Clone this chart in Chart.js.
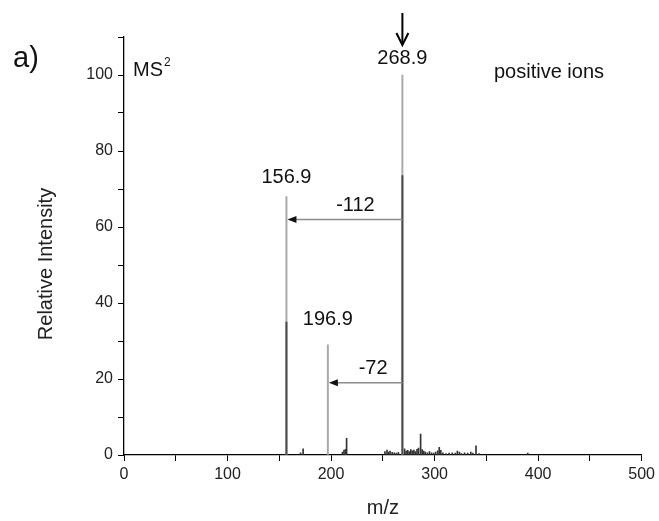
<!DOCTYPE html>
<html>
<head>
<meta charset="utf-8">
<script src="https://cdn.jsdelivr.net/npm/chart.js@4.4.1/dist/chart.umd.min.js"></script>
<style>
  html, body { margin: 0; padding: 0; background: #fff; }
  #wrap { width: 659px; height: 521px; }
</style>
</head>
<body>
<div id="wrap"><canvas id="c" width="659" height="521"></canvas></div>
<script>
// Product-ion peaks (m/z) and relative intensities (%)
const mainMz = [156.9, 196.9, 268.9];
const mainIntensity = [68, 29, 100];
// Lower, darker part of the two strongest sticks
const coreMz = [156.9, 268.9];
const coreIntensity = [35, 73.5];
// Weak background peaks
const minorMz = [170.5, 173, 211, 212.5, 214, 215, 252, 254, 255.5, 257, 259, 261, 263, 265,
  271, 272.5, 274, 275.5, 277, 278.5, 280, 281.5, 283, 284.5, 286.5, 288, 289.5, 291, 293, 295,
  297, 299, 301, 303, 304.5, 306, 308, 311, 314, 317, 320, 322, 324, 326, 329, 332, 335, 337,
  340, 343, 390];
const minorIntensity = [0.6, 1.6, 0.8, 1.3, 1.5, 4.4, 0.9, 1.3, 0.8, 1.0, 0.7, 0.6, 0.5, 0.7,
  1.6, 1.0, 1.2, 0.9, 1.4, 1.1, 1.3, 0.9, 1.5, 1.8, 5.5, 1.4, 1.0, 0.8, 0.6, 0.9,
  0.6, 0.5, 0.8, 1.1, 2.0, 1.2, 0.6, 0.4, 0.5, 0.6, 0.5, 1.0, 0.8, 0.4, 0.6, 0.5, 0.8, 0.5,
  2.4, 0.4, 0.5];
// Neutral losses from the precursor ion
const lossFrom = [268.9, 268.9];
const lossTo = [156.9, 196.9];
const lossLevel = [62, 19];
const lossLabels = ['-112', '-72'];
// Labelled axis ticks
const xTickLabels = [0, 100, 200, 300, 400, 500];
const yTickLabels = [0, 20, 40, 60, 80, 100];

const FONT = '"Liberation Sans", Arial, sans-serif';
const toPoints = (xs, ys) => xs.map((x, i) => ({ x, y: ys[i] }));

// Text, arrows and labels drawn on top of the spectrum
const annotate = {
  id: 'annotate',
  afterDatasetsDraw(chart) {
    const { ctx, scales: { x, y } } = chart;
    ctx.save();

    // peak labels
    const gaps = [9, 15, 7];
    ctx.fillStyle = '#111';
    ctx.font = '20px ' + FONT;
    ctx.textAlign = 'center';
    ctx.textBaseline = 'bottom';
    mainMz.forEach((mz, i) => {
      ctx.fillText(mz.toFixed(1), x.getPixelForValue(mz), y.getPixelForValue(mainIntensity[i]) - gaps[i]);
    });

    // precursor marker arrow
    const px = x.getPixelForValue(268.9);
    const top = y.getPixelForValue(100);
    ctx.strokeStyle = '#000';
    ctx.lineWidth = 2;
    ctx.beginPath();
    ctx.moveTo(px, top - 62);
    ctx.lineTo(px, top - 31);
    ctx.stroke();
    ctx.beginPath();
    ctx.moveTo(px - 6, top - 42);
    ctx.lineTo(px, top - 30);
    ctx.lineTo(px + 6, top - 42);
    ctx.stroke();

    // neutral-loss arrows
    const shifts = [11, 8];
    lossFrom.forEach((f, i) => {
      const x1 = x.getPixelForValue(f);
      const x2 = x.getPixelForValue(lossTo[i]);
      const yy = y.getPixelForValue(lossLevel[i]);
      ctx.strokeStyle = '#8c8c8c';
      ctx.lineWidth = 1.5;
      ctx.beginPath();
      ctx.moveTo(x1, yy);
      ctx.lineTo(x2 + 6, yy);
      ctx.stroke();
      ctx.fillStyle = '#111';
      ctx.beginPath();
      ctx.moveTo(x2 + 1, yy);
      ctx.lineTo(x2 + 10, yy - 3.5);
      ctx.lineTo(x2 + 10, yy + 3.5);
      ctx.closePath();
      ctx.fill();
      ctx.font = '20px ' + FONT;
      ctx.textAlign = 'center';
      ctx.textBaseline = 'bottom';
      ctx.fillText(lossLabels[i], (x1 + x2) / 2 + shifts[i], yy - 4);
    });

    // panel texts
    ctx.textAlign = 'left';
    ctx.textBaseline = 'alphabetic';
    ctx.fillStyle = '#111';
    ctx.font = '29px ' + FONT;
    ctx.fillText('a)', 13, 67);
    ctx.font = '20px ' + FONT;
    ctx.fillText('MS', 133, 76);
    const msWidth = ctx.measureText('MS').width;
    ctx.font = '12px ' + FONT;
    ctx.fillText('2', 133 + msWidth + 1, 66);
    ctx.font = '20px ' + FONT;
    ctx.fillText('positive ions', 494, 78);

    // y-axis title
    ctx.translate(46, 264);
    ctx.rotate(-Math.PI / 2);
    ctx.textAlign = 'center';
    ctx.textBaseline = 'middle';
    ctx.fillStyle = '#222';
    ctx.font = '20px ' + FONT;
    ctx.fillText('Relative Intensity', 0, 0);
    ctx.restore();
  }
};

new Chart(document.getElementById('c'), {
  type: 'bar',
  data: {
    datasets: [
      {
        label: 'core',
        data: toPoints(coreMz, coreIntensity),
        backgroundColor: '#4a4a4a',
        barThickness: 1.3,
        grouped: false,
        order: 0
      },
      {
        label: 'MS2',
        data: toPoints(mainMz, mainIntensity),
        backgroundColor: '#a8a8a8',
        barThickness: 1.3,
        grouped: false,
        order: 1
      },
      {
        label: 'minor',
        data: toPoints(minorMz, minorIntensity),
        backgroundColor: '#333',
        barThickness: 1,
        grouped: false,
        order: 2
      }
    ]
  },
  options: {
    responsive: false,
    animation: false,
    layout: { padding: { left: 0, top: 37, right: 17, bottom: 0 } },
    plugins: { legend: { display: false }, tooltip: { enabled: false } },
    scales: {
      x: {
        type: 'linear',
        min: 0,
        max: 500,
        offset: false,
        afterFit(s) { s.height = 66; },
        border: { display: true, color: '#000', width: 1.3 },
        grid: { display: true, drawOnChartArea: false, drawTicks: true, tickLength: 6, color: '#000', offset: false },
        ticks: {
          stepSize: 50,
          autoSkip: false,
          maxRotation: 0,
          padding: 4,
          color: '#222',
          font: { family: FONT, size: 16 },
          callback: v => xTickLabels.includes(v) ? String(v) : ''
        },
        title: { display: true, text: 'm/z', color: '#222', font: { family: FONT, size: 20 }, padding: { top: 0, bottom: 1 } }
      },
      y: {
        min: 0,
        max: 110,
        afterFit(s) { s.width = 124; },
        border: { display: true, color: '#000', width: 1.3 },
        grid: { display: true, drawOnChartArea: false, drawTicks: true, tickLength: 6, color: '#000' },
        ticks: {
          stepSize: 10,
          autoSkip: false,
          padding: 5,
          color: '#222',
          font: { family: FONT, size: 16 },
          callback: v => yTickLabels.includes(v) ? String(v) : ''
        },
        title: { display: false }
      }
    }
  },
  plugins: [annotate]
});
</script>
</body>
</html>
